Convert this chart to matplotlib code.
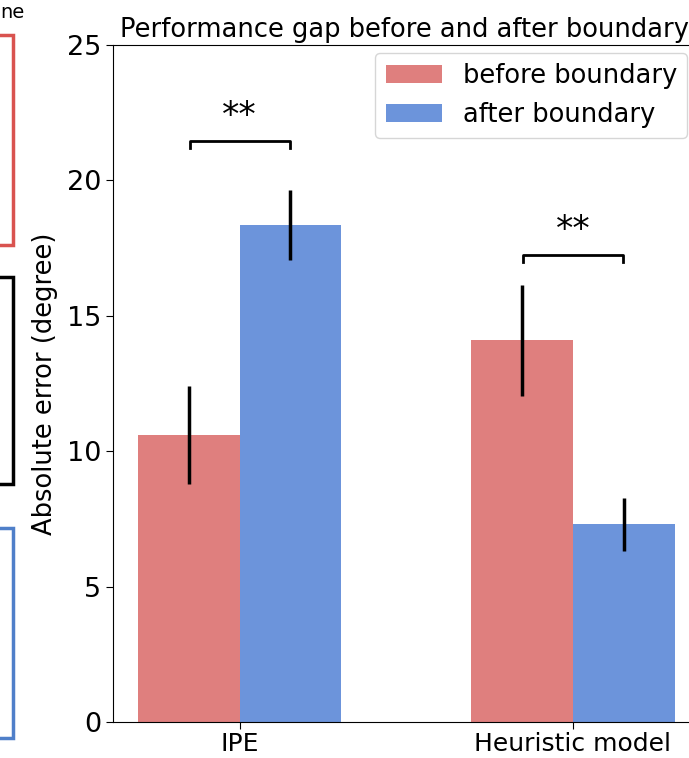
import numpy as np
import matplotlib
matplotlib.use('Agg')
import matplotlib.pyplot as plt
from matplotlib.patches import Rectangle

plt.style.use('default')

# data
models = ['IPE', 'Heuristic model']
before_mean = [10.6, 14.1]
before_err = [1.8, 2.05]
after_mean = [18.35, 7.3]
after_err = [1.3, 0.97]
sig_labels = ['**', '**']
sig_heights = [21.45, 17.25]

red = '#df7f7e'
blue = '#6c94db'
width = 0.305

fig = plt.figure(figsize=(6.89, 7.58), dpi=100)
ax = fig.add_axes([113 / 689, 36 / 758, (695 - 113) / 689, (722 - 45) / 758])

x = np.arange(len(models))
ax.bar(x - width / 2, before_mean, width, color=red, label='before boundary')
ax.bar(x + width / 2, after_mean, width, color=blue, label='after boundary')
ax.errorbar(x - width / 2, before_mean, yerr=before_err, fmt='none', ecolor='black', elinewidth=2.5, capsize=0)
ax.errorbar(x + width / 2, after_mean, yerr=after_err, fmt='none', ecolor='black', elinewidth=2.5, capsize=0)

# significance brackets
for xi, h, s in zip(x, sig_heights, sig_labels):
    ax.plot([xi - 0.15, xi - 0.15, xi + 0.15, xi + 0.15], [h - 0.25, h, h, h - 0.25], color='black', lw=2)
    ax.text(xi, h + 0.3, s, ha='center', va='bottom', fontsize=25)

ax.set_xlim(-0.38, 1.366)
ax.set_ylim(0, 25)
ax.set_xticks(x)
ax.set_xticklabels(models, fontsize=18)
ax.set_yticks([0, 5, 10, 15, 20, 25])
ax.tick_params(axis='y', labelsize=19.5)
ax.tick_params(length=5)
ax.tick_params(axis='x', pad=2)
ax.set_ylabel('Absolute error (degree)', fontsize=18.5, labelpad=6)
ax.set_title('Performance gap before and after boundary', fontsize=18.5, pad=6)
ax.legend(loc='upper right', fontsize=18.5, handlelength=2.2, borderaxespad=0.3)

# remnants of neighbouring panel
fig.text(0.0, 0.983, 'ne', fontsize=14, ha='left', va='center')
for top, bot, col in [(35, 245, '#d9534f'), (277, 484, 'black'), (528, 738, '#4f7fc9')]:
    fig.patches.append(Rectangle((-0.05, 1 - bot / 758), 0.05 + 13 / 689, (bot - top) / 758,
                                 transform=fig.transFigure, fill=False, edgecolor=col, lw=2.5))

fig.savefig('out.png', dpi=100)
